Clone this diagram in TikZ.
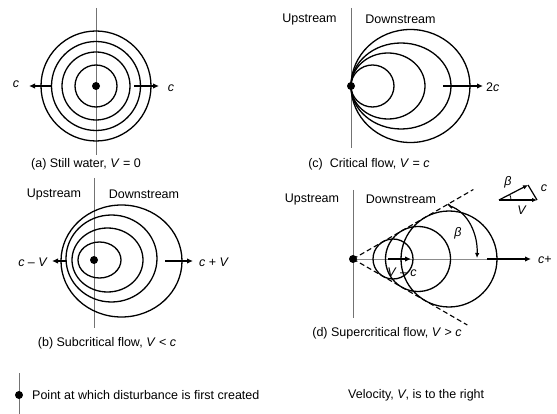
\documentclass[tikz,border=0pt]{standalone}
\usepackage{fontspec}
\setmainfont{Liberation Sans}
\usetikzlibrary{arrows.meta,calc}
\begin{document}
\begin{tikzpicture}[x=1pt,y=-1pt,
  wave/.style={line width=1.3pt},
  axisline/.style={line width=1pt, black!55},
  vec/.style={line width=1.3pt, -{Latex[length=6pt,width=5.5pt]}},
  lbl/.style={font=\fontsize{12.5}{14}\selectfont, inner sep=0pt},
  src/.style={circle, fill=black, inner sep=0pt, minimum size=8pt},
  conel/.style={line width=1.1pt, dash pattern=on 5pt off 3pt}]
\useasboundingbox (0,0) rectangle (557,414);

% ---------- (a) still water ----------
\coordinate (a0) at (96,86);
\coordinate (aT) at (96,8); \coordinate (aB) at (96,155);
\draw[axisline] (aT) -- (aB);
\foreach \r in {21,34,44.5,55} \draw[wave] (a0) circle (\r pt);
\node[src] (adot) at (a0) {};
\coordinate (aL1) at (52,86); \coordinate (aL2) at (29,86);
\coordinate (aR1) at (134,86); \coordinate (aR2) at (159,86);
\draw[vec] (aL1) -- (aL2);
\draw[vec] (aR1) -- (aR2);
\node[lbl] (acl) at (16,84) {\textit{c}};
\node[lbl] (acr) at (171,88) {\textit{c}};
\node[lbl] (acap) at (86,164) {(a) Still water, \textit{V} = 0};

% ---------- (c) critical flow ----------
\coordinate (c0) at (351,86);
\coordinate (cT) at (351,8); \coordinate (cB) at (351,148);
\draw[axisline] (cT) -- (cB);
\draw[wave] (372.5,86) ellipse (21.5pt and 21pt);
\draw[wave] (388,86) ellipse (37pt and 33pt);
\draw[wave] (401,86) ellipse (50pt and 43pt);
\draw[wave] (410.5,86) ellipse (59.5pt and 56.5pt);
\node[src] (cdot) at (c0) {};
\coordinate (cA1) at (443,86); \coordinate (cA2) at (483,86);
\draw[vec] (cA1) -- (cA2);
\node[lbl, anchor=west] (c2c) at (486,87) {2\textit{c}};
\node[lbl] (cup) at (309.5,19) {Upstream};
\node[lbl] (cdown) at (400.5,19) {Downstream};
\node[lbl] (ccap) at (369,164) {(c)\ \ Critical flow, \textit{V} = \textit{c}};

% ---------- (b) subcritical flow ----------
\coordinate (b0) at (94,260);
\coordinate (bT) at (94,178); \coordinate (bB) at (94,328);
\draw[axisline] (bT) -- (bB);
\draw[wave] (99.5,260) ellipse (21.5pt and 18pt);
\draw[wave] (107.5,260) ellipse (35.5pt and 32pt);
\draw[wave] (111.5,258.5) ellipse (45.5pt and 43.5pt);
\draw[wave] (121.5,261) ellipse (60.5pt and 56pt);
\node[src] (bdot) at (b0) {};
\coordinate (bL1) at (66,261); \coordinate (bL2) at (52,261);
\coordinate (bR1) at (165,261); \coordinate (bR2) at (193,261);
\draw[vec] (bL1) -- (bL2);
\draw[vec] (bR1) -- (bR2);
\node[lbl] (bcl) at (33,262) {\textit{c} -- \textit{V}};
\node[lbl] (bcr) at (214,262) {\textit{c} + \textit{V}};
\node[lbl] (bup) at (54,194) {Upstream};
\node[lbl] (bdown) at (144,194) {Downstream};
\node[lbl] (bcap) at (107,343) {(b) Subcritical flow, \textit{V} {\textless} \textit{c}};

% ---------- (d) supercritical flow ----------
\coordinate (d0) at (353,259);
\coordinate (dT) at (353,190); \coordinate (dB) at (353,318);
\draw[axisline] (dT) -- (dB);
\coordinate (dE) at (488,259);
\draw[line width=0.8pt, black!45] (d0) -- (dE);
\coordinate (dU) at ($(d0)+(30:139pt)$);
\coordinate (dL) at ($(d0)+(-30:132pt)$);
\draw[conel] (d0) -- (dU);
\draw[conel] (d0) -- (dL);
\draw[wave] (393,259) circle (20pt);
\draw[wave] (418,259) circle (32.5pt);
\draw[wave] (449,259) circle (48pt);
\node[src] (ddot) at (d0) {};
\coordinate (dV1) at (388,259); \coordinate (dV2) at (411,259);
\draw[vec] (dV1) -- (dV2);
\coordinate (dC1) at (487,259); \coordinate (dC2) at (531,259);
\draw[vec] (dC1) -- (dC2);
\node[lbl, anchor=west] (dcp) at (538,260) {\textit{c}+};
\node[lbl] (dvc) at (402,272) {\textit{V} -- \textit{c}};
\coordinate (bs) at (450,206); \coordinate (be) at (477,258);
\draw[line width=1.2pt, -{Latex[length=5pt,width=4.5pt]}] (bs) .. controls (468,212) and (478,234) .. (be);
\draw[line width=1.5pt] (448,204) -- (452,208);
\node[lbl] (dbeta) at (458,233) {\textit{β}};
\node[lbl] (dup) at (312,199) {Upstream};
\node[lbl] (ddown) at (401,199) {Downstream};
\node[lbl] (dcap) at (387,333) {(d) Supercritical flow, \textit{V} {\textgreater} \textit{c}};

% velocity triangle
\coordinate (tA) at (499,200); \coordinate (tB) at (537,200); \coordinate (tC) at (528,185);
\draw[line width=1.2pt] (tB) -- (tC);
\draw[line width=1.2pt, -{Latex[length=5pt,width=4.5pt]}] (tA) -- (tB);
\draw[line width=1.2pt, -{Latex[length=5pt,width=4.5pt]}] (tA) -- (tC);
\draw[line width=0.8pt] (511,200) arc[start angle=0, end angle=27, radius=12pt];
\node[lbl] (tbeta) at (508,182) {\textit{β}};
\node[lbl] (tc) at (544,188) {\textit{c}};
\node[lbl] (tV) at (522,210) {\textit{V}};

% ---------- legend ----------
\coordinate (lT) at (19,373); \coordinate (lB) at (19,414);
\draw[axisline] (lT) -- (lB);
\node[src] (ldot) at (19,395) {};
\node[lbl, anchor=west] (ltxt) at (32,395) {Point at which disturbance is first created};
\node[lbl, anchor=west] (rtxt) at (348,395) {Velocity, \textit{V}, is to the right};
\end{tikzpicture}
\end{document}
